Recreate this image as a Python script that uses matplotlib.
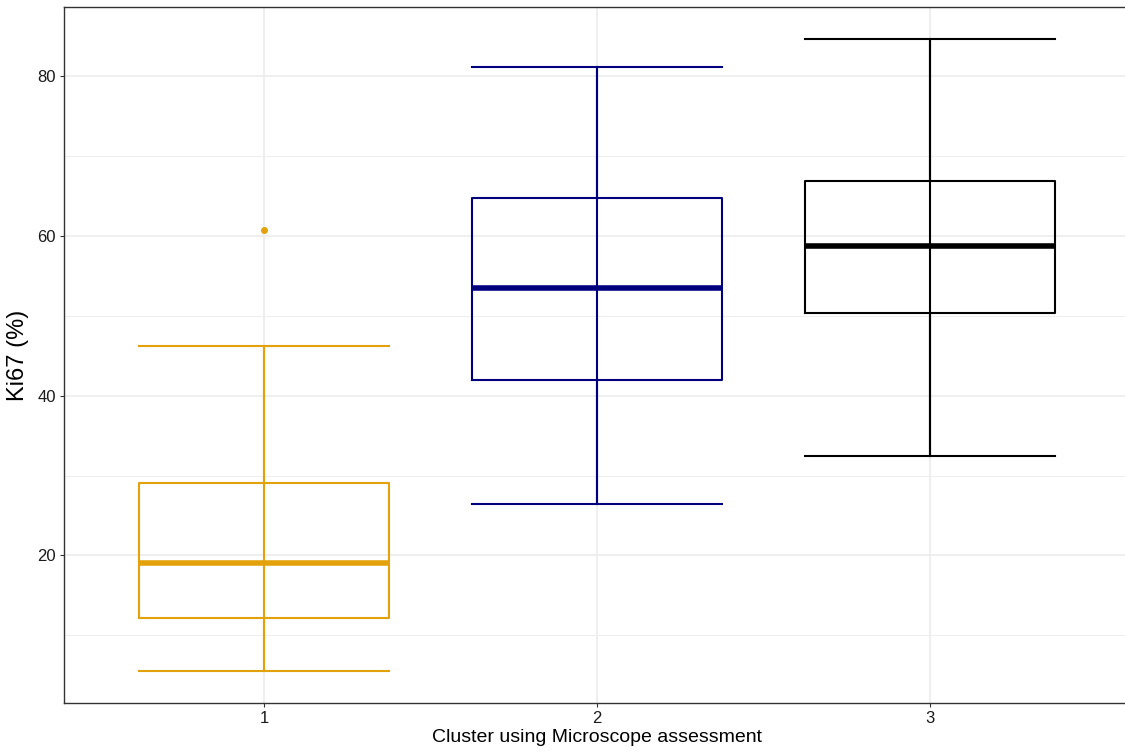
import matplotlib.pyplot as plt
import matplotlib as mpl
from matplotlib.ticker import MultipleLocator

mpl.rcParams['font.family'] = ['Liberation Sans', 'DejaVu Sans']

# box statistics
clusters = ['1', '2', '3']
whis_lo = [5.5, 26.4, 32.4]
q1 = [12.2, 42.0, 50.4]
medians = [19.1, 53.5, 58.7]
q3 = [29.1, 64.8, 66.9]
whis_hi = [46.2, 81.1, 84.7]
outliers = [[60.8], [], []]
colors = ['#E3A20B', '#00007F', '#000000']

fig = plt.figure(figsize=(11.25, 7.55), dpi=100)
# the original panel runs a little past the right edge of the image
ax = fig.add_axes([0.0569, 0.069, 0.9476, 0.9217])

positions = [1, 2, 3]
for i, pos in enumerate(positions):
    c = colors[i]
    # errorbar through the whole range, drawn behind the box
    ax.vlines(pos, whis_lo[i], whis_hi[i], color=c, lw=1.5, zorder=2)
    stats = [dict(med=medians[i], q1=q1[i], q3=q3[i],
                  whislo=whis_lo[i], whishi=whis_hi[i], fliers=outliers[i])]
    ax.bxp(stats, positions=[pos], widths=0.75, capwidths=0.75,
           boxprops=dict(color=c, lw=1.5),
           whiskerprops=dict(color=c, lw=1.5),
           capprops=dict(color=c, lw=1.5),
           medianprops=dict(color=c, lw=4.0, solid_capstyle='butt'),
           flierprops=dict(marker='o', markerfacecolor=c, markeredgecolor=c,
                           markersize=4),
           manage_ticks=False, zorder=3)

ax.set_xlim(0.4, 3.6)
ymin = min(whis_lo)
ymax = max(whis_hi)
pad = (ymax - ymin) * 0.05
ax.set_ylim(ymin - pad, ymax + pad)

ax.set_xticks(positions)
ax.set_xticklabels(clusters)
ax.yaxis.set_major_locator(MultipleLocator(20))
ax.yaxis.set_minor_locator(MultipleLocator(10))
ax.set_yticks([20, 40, 60, 80])

ax.grid(which='major', color='#EBEBEB', lw=1.1, zorder=0)
ax.grid(which='minor', axis='y', color='#EBEBEB', lw=0.6, zorder=0)
ax.set_axisbelow(True)
ax.tick_params(which='minor', length=0)
ax.tick_params(which='major', length=3, width=0.8, color='#333333',
               labelsize=12, labelcolor='#1A1A1A', pad=3)
for s in ax.spines.values():
    s.set_color('#333333')
    s.set_linewidth(1.0)

ax.set_xlabel('Cluster using Microscope assessment', fontsize=14, labelpad=2)
ax.set_ylabel('Ki67 (%)', fontsize=17, labelpad=6)

plt.savefig('out.png', dpi=100)
